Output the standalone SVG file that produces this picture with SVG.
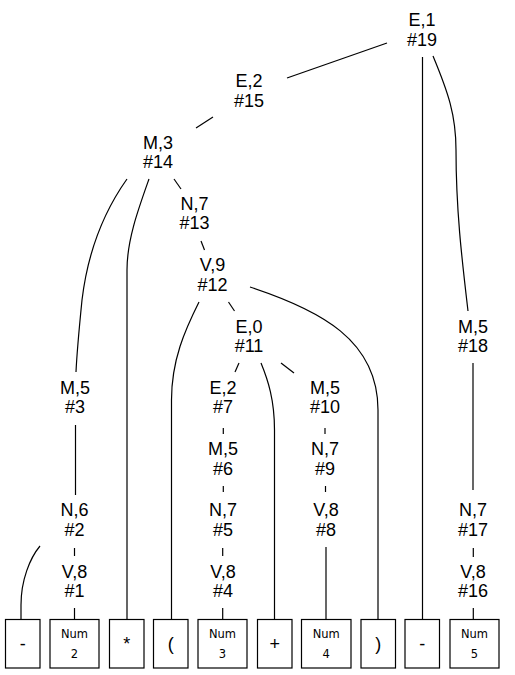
<svg xmlns="http://www.w3.org/2000/svg" width="515" height="675" viewBox="0 0 515 675">
<style>
.t{font-family:"Liberation Sans",Arial,sans-serif;font-size:18px;fill:#000;text-anchor:middle}
.s{font-family:"DejaVu Sans","Liberation Sans",sans-serif;font-size:11.5px;fill:#000;text-anchor:middle}
.b{fill:#fff;stroke:#000;stroke-width:1.2}
.e{fill:none;stroke:#000;stroke-width:1.2}
</style>
<rect x="0" y="0" width="515" height="675" fill="#fff"/>
<g id="connectors">
<path class="e" d="M387,43 L287,78"/>
<path class="e" d="M422.5,57 L422.5,619"/>
<path class="e" d="M433,56 C448,92 456,115 456,150 C456,210 462,260 468,311"/>
<path class="e" d="M473,363 L473,490"/>
<path class="e" d="M473.3,548 L473.3,557"/>
<path class="e" d="M473.3,608 L473.3,619"/>
<path class="e" d="M213,117 L196,128"/>
<path class="e" d="M174,179 L181,189"/>
<path class="e" d="M127,179 C105,210 88,250 82,300 C79,330 77,350 76,372"/>
<path class="e" d="M149,179 C138,210 127,240 127,270 L127,619"/>
<path class="e" d="M201,241 L204.5,250"/>
<path class="e" d="M199,302 C185,330 171.5,360 171.5,400 L171.5,619"/>
<path class="e" d="M228.5,302 L234.5,311"/>
<path class="e" d="M250,287 C320,310 378,340 378,410 L378,619"/>
<path class="e" d="M239,363 L235,372"/>
<path class="e" d="M261,363 C268,380 274.5,400 274.5,430 L274.5,619"/>
<path class="e" d="M281,363 L294,373"/>
<path class="e" d="M223.3,428 L223.3,434"/>
<path class="e" d="M325,428 L325,434"/>
<path class="e" d="M223.3,486 L223.3,492"/>
<path class="e" d="M325.5,486 L325.5,492"/>
<path class="e" d="M222.7,548 L222.7,556"/>
<path class="e" d="M222.7,608 L222.7,619"/>
<path class="e" d="M326,547 L326,619"/>
<path class="e" d="M75.5,425 L75.5,495"/>
<path class="e" d="M74.5,548 L74.5,556"/>
<path class="e" d="M74.5,608 L74.5,619"/>
<path class="e" d="M40,546 C30,558 21,580 21,605 L21,619"/>
</g>
<g id="n19"><text class="t" x="422" y="26">E,1</text><text class="t" x="422" y="45.5">#19</text></g>
<g id="n15"><text class="t" x="249" y="87.3">E,2</text><text class="t" x="249" y="106.8">#15</text></g>
<g id="n14"><text class="t" x="158" y="148.6">M,3</text><text class="t" x="158" y="168.1">#14</text></g>
<g id="n13"><text class="t" x="194.5" y="209.9">N,7</text><text class="t" x="194.5" y="229.4">#13</text></g>
<g id="n12"><text class="t" x="212.5" y="271.2">V,9</text><text class="t" x="212.5" y="290.7">#12</text></g>
<g id="n11"><text class="t" x="249" y="332.5">E,0</text><text class="t" x="249" y="352">#11</text></g>
<g id="n18"><text class="t" x="473" y="332.5">M,5</text><text class="t" x="473" y="352">#18</text></g>
<g id="n3"><text class="t" x="75" y="393.8">M,5</text><text class="t" x="75" y="413.3">#3</text></g>
<g id="n7"><text class="t" x="223" y="393.8">E,2</text><text class="t" x="223" y="413.3">#7</text></g>
<g id="n10"><text class="t" x="325" y="393.8">M,5</text><text class="t" x="325" y="413.3">#10</text></g>
<g id="n6"><text class="t" x="223" y="455.1">M,5</text><text class="t" x="223" y="474.6">#6</text></g>
<g id="n9"><text class="t" x="325" y="455.1">N,7</text><text class="t" x="325" y="474.6">#9</text></g>
<g id="n2"><text class="t" x="74.5" y="516.4">N,6</text><text class="t" x="74.5" y="535.9">#2</text></g>
<g id="n5"><text class="t" x="223" y="516.4">N,7</text><text class="t" x="223" y="535.9">#5</text></g>
<g id="n8"><text class="t" x="326" y="516.4">V,8</text><text class="t" x="326" y="535.9">#8</text></g>
<g id="n17"><text class="t" x="473" y="516.4">N,7</text><text class="t" x="473" y="535.9">#17</text></g>
<g id="n1"><text class="t" x="74.5" y="577.7">V,8</text><text class="t" x="74.5" y="597.2">#1</text></g>
<g id="n4"><text class="t" x="223" y="577.7">V,8</text><text class="t" x="223" y="597.2">#4</text></g>
<g id="n16"><text class="t" x="473" y="577.7">V,8</text><text class="t" x="473" y="597.2">#16</text></g>
<g id="leaf1"><rect class="b" x="5.5" y="619.5" width="34.5" height="48.5"/><text class="t" x="22.75" y="650">-</text></g>
<g id="leaf2"><rect class="b" x="50" y="619.5" width="49" height="48.5"/><text class="s" x="74.5" y="637.5">Num</text><text class="s" x="74.5" y="658">2</text></g>
<g id="leaf3"><rect class="b" x="109.5" y="619.5" width="34.5" height="48.5"/><text class="t" x="126.75" y="650">*</text></g>
<g id="leaf4"><rect class="b" x="153.5" y="619.5" width="34.5" height="48.5"/><text class="t" x="170.75" y="650">(</text></g>
<g id="leaf5"><rect class="b" x="198" y="619.5" width="49" height="48.5"/><text class="s" x="222.5" y="637.5">Num</text><text class="s" x="222.5" y="658">3</text></g>
<g id="leaf6"><rect class="b" x="257.5" y="619.5" width="34.5" height="48.5"/><text class="t" x="274.75" y="650">+</text></g>
<g id="leaf7"><rect class="b" x="301.5" y="619.5" width="49.5" height="48.5"/><text class="s" x="326.25" y="637.5">Num</text><text class="s" x="326.25" y="658">4</text></g>
<g id="leaf8"><rect class="b" x="361" y="619.5" width="34.5" height="48.5"/><text class="t" x="378.25" y="650">)</text></g>
<g id="leaf9"><rect class="b" x="405" y="619.5" width="34.5" height="48.5"/><text class="t" x="422.25" y="650">-</text></g>
<g id="leaf10"><rect class="b" x="450" y="619.5" width="49" height="48.5"/><text class="s" x="474.5" y="637.5">Num</text><text class="s" x="474.5" y="658">5</text></g>
</svg>
